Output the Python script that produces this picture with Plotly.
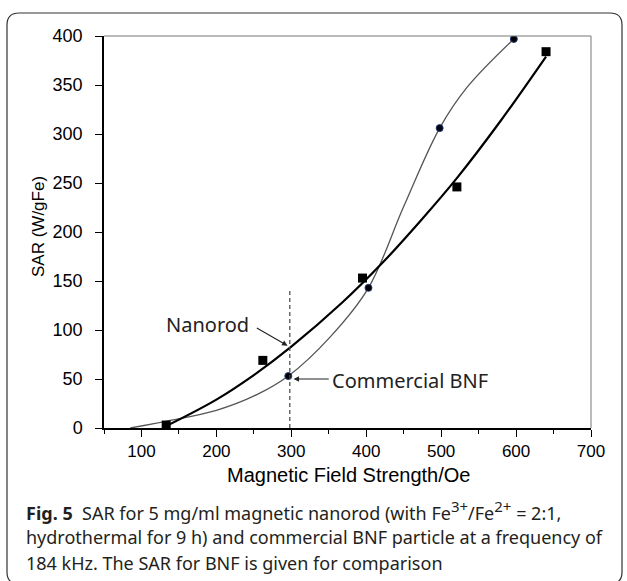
import plotly.graph_objects as go

rod_field = [133, 262, 395, 521, 640]
rod_sar = [3, 69, 153, 246, 384]
bnf_field = [296, 403, 498, 597]
bnf_sar = [53, 143, 306, 397]

# fitted curves as drawn in the figure
rod_fit_field = [133, 200, 250, 300, 368, 421, 472, 521, 579, 640]
rod_fit_sar = [2, 29, 54, 83, 128, 168, 211, 255, 313, 379]
bnf_fit_field = [85, 134, 200, 254, 296, 352, 403, 450, 498, 535, 597]
bnf_fit_sar = [0, 7, 18, 34, 53, 93, 143, 226, 306, 348, 397]

x_ticks = [100, 200, 300, 400, 500, 600, 700]
y_ticks = [0, 50, 100, 150, 200, 250, 300, 350, 400]

W, H = 627, 581
ML, MR, MT, MB = 104, 36, 36, 153
PW, PH = W - ML - MR, H - MT - MB


def px(x):
    return (x - ML) / PW


def py(y):
    return (H - MB - y) / PH


fig = go.Figure()

fig.add_trace(go.Scatter(x=bnf_fit_field, y=bnf_fit_sar, mode="lines",
                         line=dict(color="#555555", width=1.3, shape="spline"),
                         hoverinfo="skip"))
fig.add_trace(go.Scatter(x=rod_fit_field, y=rod_fit_sar, mode="lines",
                         line=dict(color="black", width=2.2, shape="spline"),
                         hoverinfo="skip"))
fig.add_trace(go.Scatter(x=rod_field, y=rod_sar, mode="markers",
                         marker=dict(symbol="square", size=9, color="black")))
fig.add_trace(go.Scatter(x=bnf_field, y=bnf_sar, mode="markers",
                         marker=dict(symbol="circle", size=7, color="black",
                                     line=dict(color="#1f3a7a", width=1))))

# dashed marker line at 300 Oe
fig.add_shape(type="line", x0=298, x1=298, y0=0, y1=141, xref="x", yref="y",
              line=dict(color="#444444", width=1.2, dash="4px,3px"))

# top / right frame of the plot box
fig.add_shape(type="line", x0=0, x1=1, y0=1, y1=1, xref="paper", yref="paper",
              line=dict(color="#777777", width=1))
fig.add_shape(type="line", x0=1, x1=1, y0=0, y1=1, xref="paper", yref="paper",
              line=dict(color="#777777", width=1))

# rounded outer border
l, r, t, b, rad = 7, 622, 13, 584, 12
path = (f"M {px(l + rad)} {py(t)} L {px(r - rad)} {py(t)} "
        f"Q {px(r)} {py(t)} {px(r)} {py(t + rad)} "
        f"L {px(r)} {py(b - rad)} Q {px(r)} {py(b)} {px(r - rad)} {py(b)} "
        f"L {px(l + rad)} {py(b)} Q {px(l)} {py(b)} {px(l)} {py(b - rad)} "
        f"L {px(l)} {py(t + rad)} Q {px(l)} {py(t)} {px(l + rad)} {py(t)} Z")
fig.add_shape(type="path", path=path, xref="paper", yref="paper",
              line=dict(color="#333333", width=1.2))

label_font = dict(family="Noto Sans", size=20, color="#222222")
fig.add_annotation(x=295, y=84, ax=252, ay=103, xref="x", yref="y",
                   axref="x", ayref="y", text="", showarrow=True,
                   arrowhead=2, arrowsize=1, arrowwidth=1.1, arrowcolor="#222222")
fig.add_annotation(x=246, y=106, xref="x", yref="y", text="Nanorod",
                   showarrow=False, xanchor="right", yanchor="middle", font=label_font)
fig.add_annotation(x=303, y=50, ax=352, ay=50, xref="x", yref="y",
                   axref="x", ayref="y", text="", showarrow=True,
                   arrowhead=2, arrowsize=1, arrowwidth=1.1, arrowcolor="#222222")
fig.add_annotation(x=352, y=48, xref="x", yref="y", text="Commercial BNF",
                   showarrow=False, xanchor="left", yanchor="middle", font=label_font)

# axis titles
fig.add_annotation(x=px(348), y=py(475), xref="paper", yref="paper",
                   text="Magnetic Field Strength/Oe", showarrow=False,
                   xanchor="center", yanchor="middle",
                   font=dict(family="Liberation Sans", size=20, color="black"))
fig.add_annotation(x=px(38), y=py(227), xref="paper", yref="paper",
                   text="SAR (W/gFe)", textangle=-90, showarrow=False,
                   xanchor="center", yanchor="middle",
                   font=dict(family="Liberation Sans", size=17, color="black"))

# caption
cap_font = dict(family="Noto Sans", size=18, color="#231f20")
sup = "<sup><span style='font-size:15px'>{}</span></sup>"
caption = [
    "<b>Fig. 5</b>  SAR for 5 mg/ml magnetic nanorod (with Fe" + sup.format("3+")
    + "/Fe" + sup.format("2+") + " = 2:1,",
    "hydrothermal for 9 h) and commercial BNF particle at a frequency of",
    "184 kHz. The SAR for BNF is given for comparison",
]
for line, ypos in zip(caption, [510, 537, 563]):
    fig.add_annotation(x=px(24), y=py(ypos), xref="paper", yref="paper",
                       text=line, showarrow=False, xanchor="left", yanchor="middle",
                       font=cap_font)

fig.update_xaxes(range=[50, 700], tickvals=x_ticks, showgrid=False, zeroline=False,
                 showline=True, linecolor="black", linewidth=1.5,
                 ticks="outside", ticklen=7, tickwidth=1.3, tickcolor="black",
                 minor=dict(dtick=50, tick0=50, ticks="outside", ticklen=4,
                            tickwidth=1.2, tickcolor="black"),
                 tickfont=dict(family="Liberation Sans", size=17, color="black"))
fig.update_yaxes(range=[0, 400], tickvals=y_ticks, showgrid=False, zeroline=False,
                 showline=True, linecolor="black", linewidth=1.5,
                 ticks="outside", ticklen=7, tickwidth=1.3, tickcolor="black",
                 ticklabelstandoff=9,
                 tickfont=dict(family="Liberation Sans", size=18, color="black"))

fig.update_layout(width=W, height=H, showlegend=False,
                  margin=dict(l=ML, r=MR, t=MT, b=MB),
                  paper_bgcolor="white", plot_bgcolor="white")

fig.write_html("out.html", config={"displayModeBar": False},
               post_script="document.body.style.margin='0';")
